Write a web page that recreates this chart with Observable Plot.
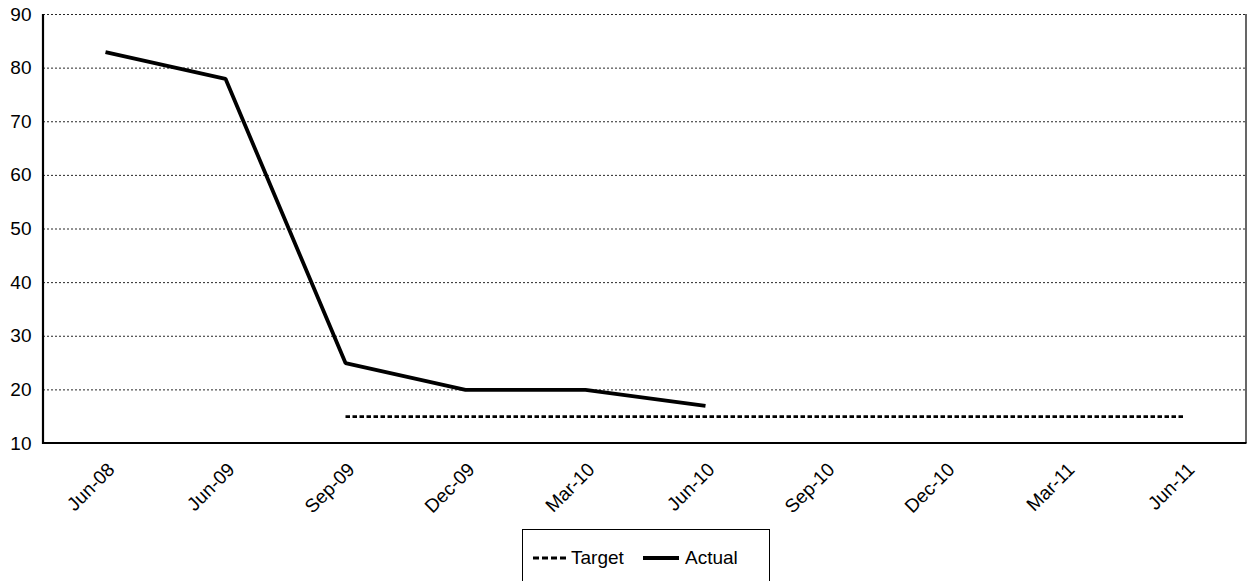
<!DOCTYPE html>
<html>
<head>
<meta charset="utf-8">
<script src="https://cdn.jsdelivr.net/npm/d3@7"></script>
<script src="https://cdn.jsdelivr.net/npm/@observablehq/plot@0.6"></script>
<style>
  html, body { margin: 0; padding: 0; background: #fff; }
  body { width: 1254px; height: 581px; position: relative; overflow: hidden; font-family: "Liberation Sans", Arial, sans-serif; }
  #legend {
    position: absolute; left: 522px; top: 529px; width: 248px; height: 60px;
    border: 1px solid #000; box-sizing: border-box; background: #fff;
  }
  #legend svg { position: absolute; left: 0; top: 0; }
</style>
</head>
<body>
<div id="chart"></div>
<div id="legend"></div>
<script>
// Quarterly periods on the horizontal axis
const periods = ["Jun-08", "Jun-09", "Sep-09", "Dec-09", "Mar-10", "Jun-10", "Sep-10", "Dec-10", "Mar-11", "Jun-11"];

// Actual values (reported through Jun-10)
const actualPeriods = ["Jun-08", "Jun-09", "Sep-09", "Dec-09", "Mar-10", "Jun-10"];
const actualValues = [83, 78, 25, 20, 20, 17];

// Target values (Sep-09 onwards)
const targetPeriods = ["Sep-09", "Dec-09", "Mar-10", "Jun-10", "Sep-10", "Dec-10", "Mar-11", "Jun-11"];
const targetValues = [15, 15, 15, 15, 15, 15, 15, 15];

const yTicks = [10, 20, 30, 40, 50, 60, 70, 80, 90];
const gridTicks = [20, 30, 40, 50, 60, 70, 80, 90];

const actual = actualPeriods.map((p, i) => ({period: p, value: actualValues[i]}));
const target = targetPeriods.map((p, i) => ({period: p, value: targetValues[i]}));

const font = "Liberation Sans, Arial, sans-serif";

// Axis lines: solid left and bottom, thin right edge
const axisLines = (index, scales, values, dims) => {
  const g = d3.create("svg:g");
  const left = dims.marginLeft, right = dims.width - dims.marginRight;
  const top = dims.marginTop, bottom = dims.height - dims.marginBottom;
  g.append("line").attr("x1", right).attr("x2", right).attr("y1", top).attr("y2", bottom)
    .attr("stroke", "#000").attr("stroke-width", 1.2);
  g.append("line").attr("x1", left).attr("x2", left).attr("y1", top).attr("y2", bottom + 1)
    .attr("stroke", "#000").attr("stroke-width", 2.2);
  g.append("line").attr("x1", left - 1).attr("x2", right + 0.5).attr("y1", bottom).attr("y2", bottom)
    .attr("stroke", "#000").attr("stroke-width", 2.2);
  return g.node();
};

const chart = Plot.plot({
  width: 1254,
  height: 520,
  marginLeft: 43,
  marginRight: 8,
  marginTop: 14,
  marginBottom: 77,
  style: {fontFamily: font, fontSize: "19px", color: "#000", background: "#fff"},
  x: {type: "point", domain: periods, padding: 0.5, label: null},
  y: {domain: [10, 90], label: null},
  marks: [
    Plot.ruleY(gridTicks, {stroke: "#000", strokeWidth: 1, strokeDasharray: "2,2", strokeOpacity: 0.85}),
    Plot.axisY({ticks: yTicks, tickSize: 0, tickPadding: 12, fontSize: 19, label: null}),
    Plot.axisX({tickSize: 0, tickRotate: -45, tickPadding: 6, dx: 6, dy: 17, fontSize: 19, label: null}),
    Plot.line(target, {x: "period", y: "value", stroke: "#000", strokeWidth: 2.8, strokeDasharray: "4.5,2.5", strokeLinecap: "butt"}),
    Plot.line(actual, {x: "period", y: "value", stroke: "#000", strokeWidth: 3.8, strokeLinejoin: "miter", strokeLinecap: "butt"}),
    axisLines
  ]
});
document.getElementById("chart").appendChild(chart);

// Legend below the chart
const leg = d3.select("#legend").append("svg").attr("width", 248).attr("height", 60);
leg.append("line").attr("x1", 10).attr("x2", 45).attr("y1", 28).attr("y2", 28)
  .attr("stroke", "#000").attr("stroke-width", 2.8).attr("stroke-dasharray", "6,3");
leg.append("text").attr("x", 48).attr("y", 34).text("Target")
  .attr("font-family", font).attr("font-size", 19);
leg.append("line").attr("x1", 120).attr("x2", 156).attr("y1", 28).attr("y2", 28)
  .attr("stroke", "#000").attr("stroke-width", 3.8);
leg.append("text").attr("x", 162).attr("y", 34).text("Actual")
  .attr("font-family", font).attr("font-size", 19);
</script>
</body>
</html>
